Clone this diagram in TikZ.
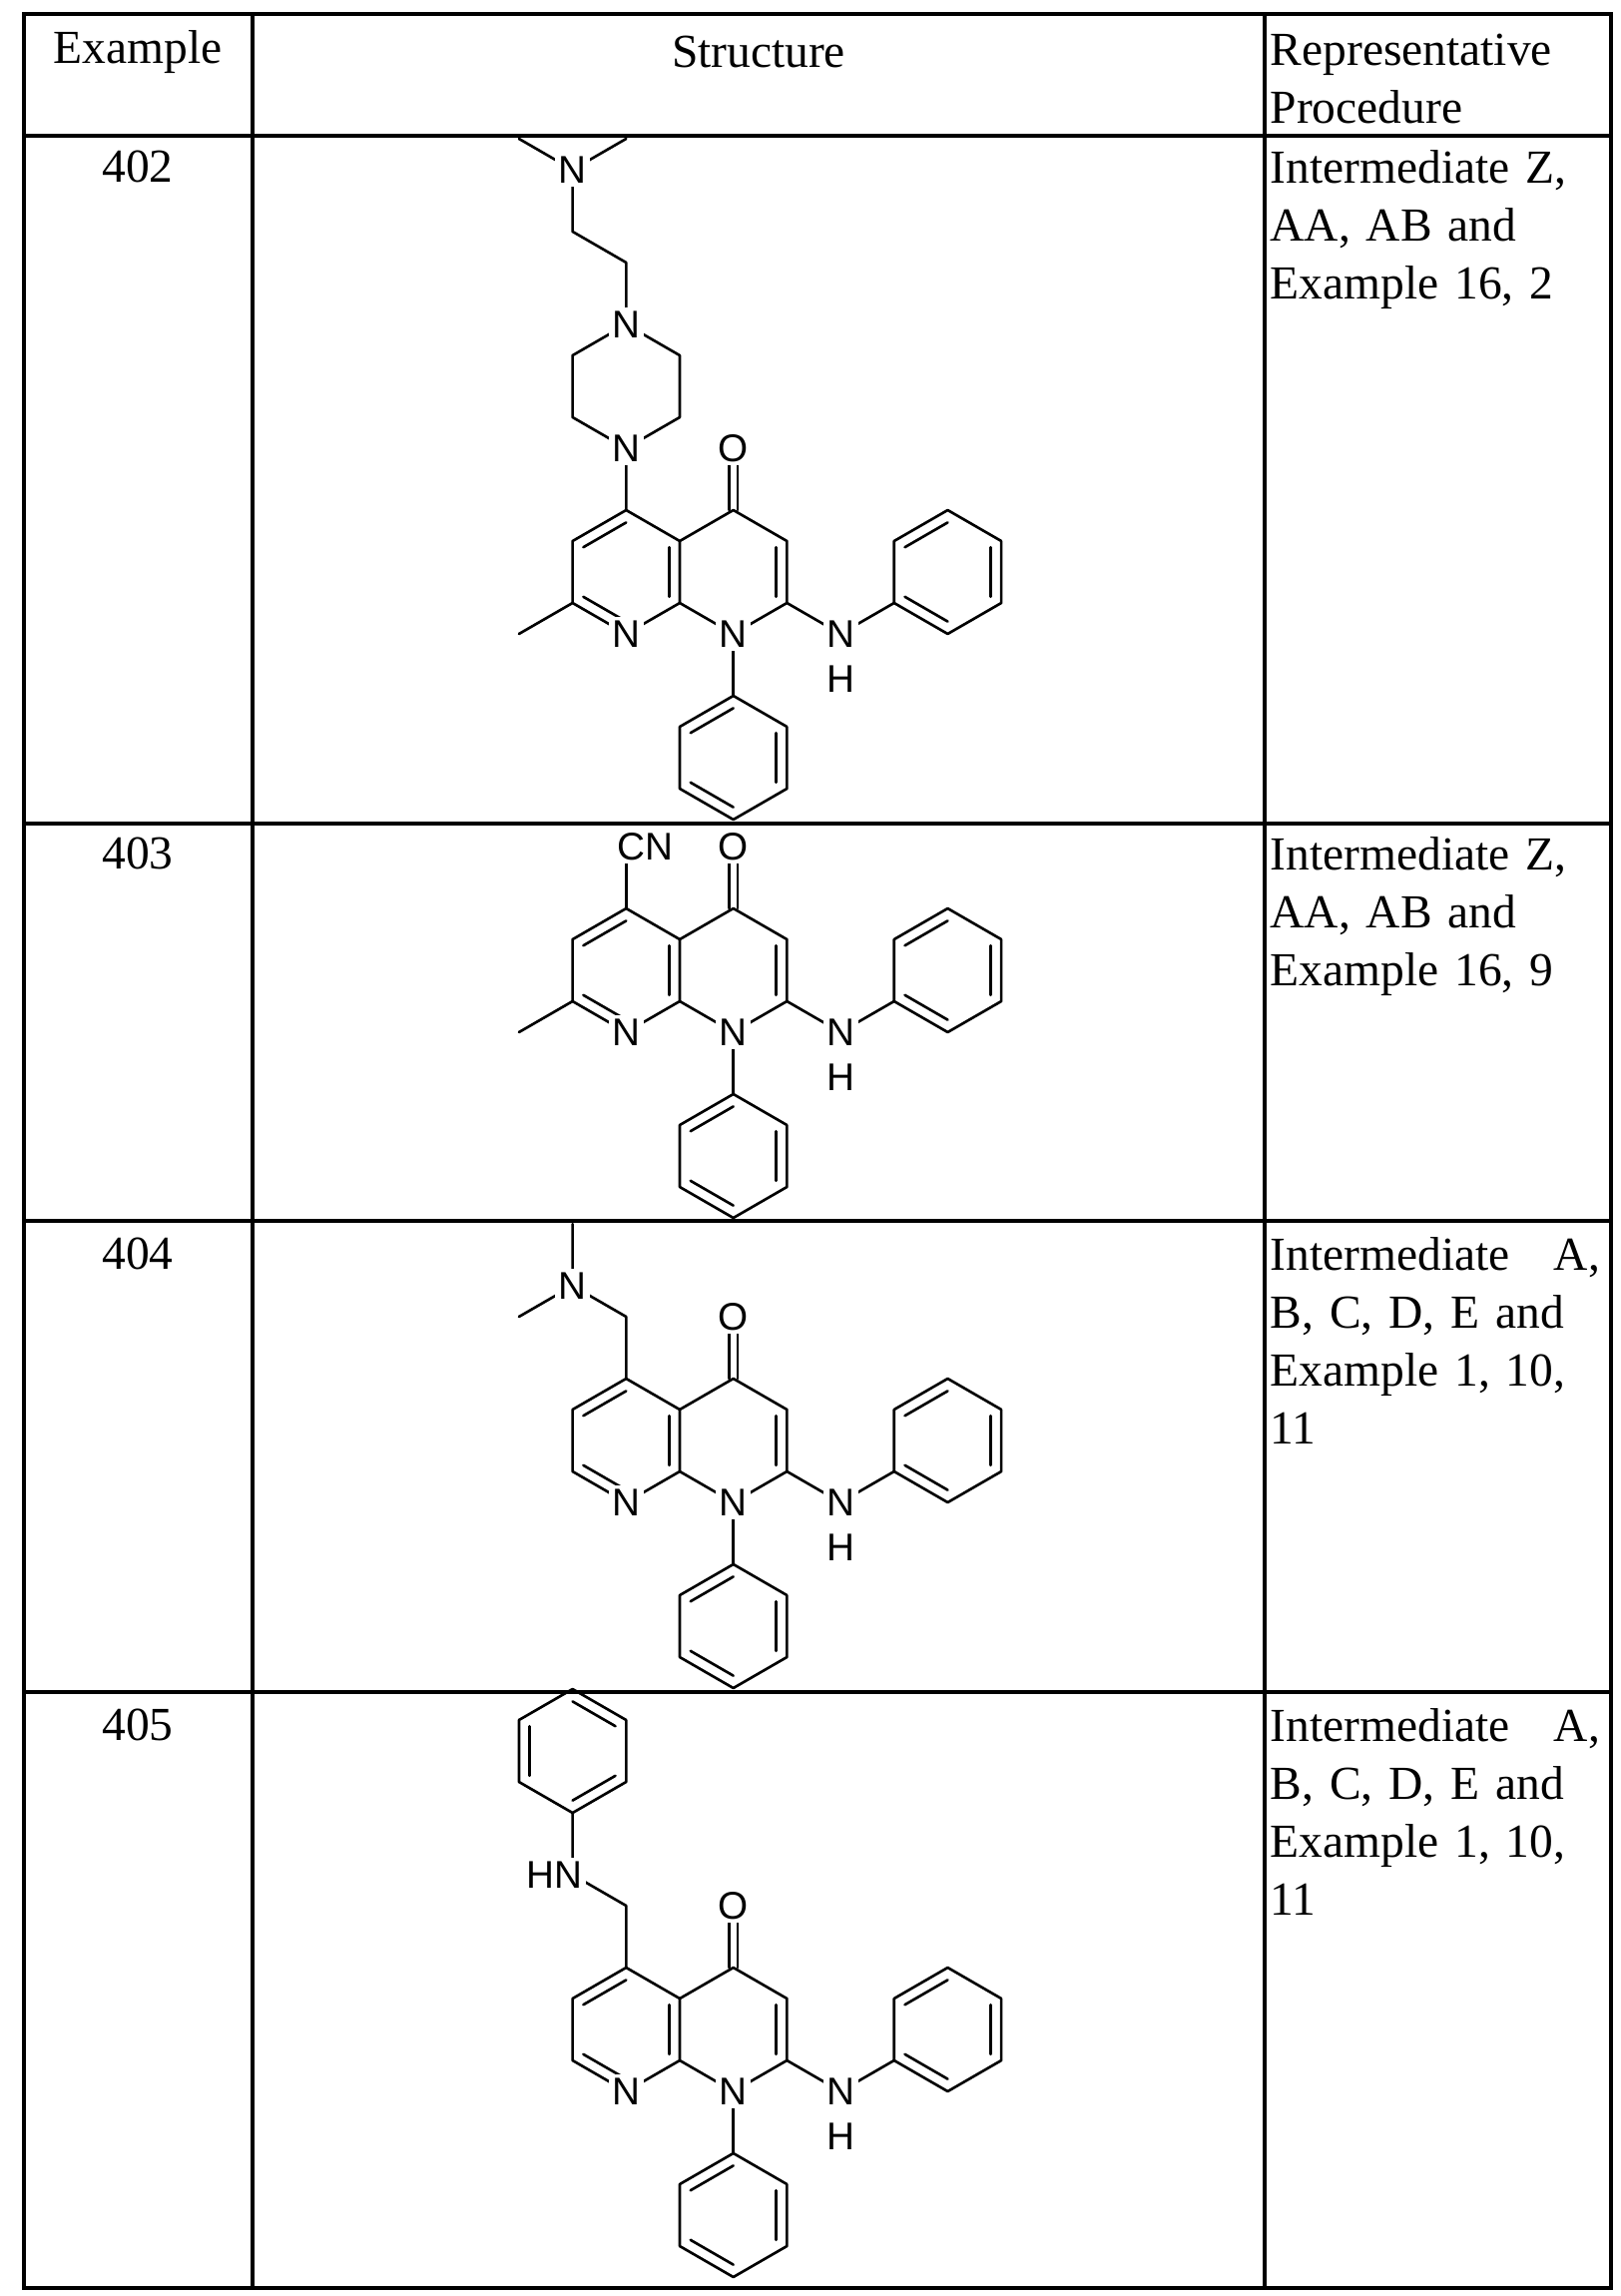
\documentclass[tikz,border=0pt]{standalone}
\usepackage{fontspec}
\setmainfont{Liberation Serif}
\newfontfamily\chemfont{Liberation Sans}
\usetikzlibrary{calc,positioning}
\tikzset{
  rule/.style     = {line width=0.9pt, draw=black},
  bond/.style     = {line width=0.75pt, line join=round, line cap=round},
  atom/.style     = {font=\chemfont\fontsize{11}{12}\selectfont, fill=white, inner sep=1pt},
  celltext/.style = {font=\fontsize{13.5}{16.5}\selectfont, inner sep=0pt},
  proc/.style     = {celltext, anchor=north west, align=left, text width=3.3cm}
}
% inner line of a double bond, pulled toward the ring centre
\newcommand{\inbond}[3]{\draw[bond] ($(#1)!0.2!(#3)$) -- ($(#2)!0.2!(#3)$);}
% benzene ring: centre, start angles of the inner double lines
\newcommand{\phenyl}[2]{
  \draw[bond] ($(#1)+(30:1)$) \foreach \a in {90,150,...,390}{ -- ($(#1)+(\a:1)$)};
  \foreach \a in {#2}{\draw[bond] ($(#1)+(\a:0.8)$) -- ($(#1)+(\a+60:0.8)$);}
}
% 1-phenyl-2-anilino-1,8-naphthyridin-4-one core, C8a at the origin
\newcommand{\naphcore}{
  \coordinate (c8a) at (0,0);      \coordinate (c4a) at (0,1);
  \coordinate (n1)  at (0.866,-0.5); \coordinate (c2) at (1.732,0);
  \coordinate (c3)  at (1.732,1);  \coordinate (c4)  at (0.866,1.5);
  \coordinate (n8)  at (-0.866,-0.5); \coordinate (c7) at (-1.732,0);
  \coordinate (c6)  at (-1.732,1); \coordinate (c5)  at (-0.866,1.5);
  \coordinate (lc)  at (-0.866,0.5); \coordinate (rc) at (0.866,0.5);
  \coordinate (o)   at (0.866,2.5);
  \coordinate (nh)  at (2.598,-0.5); \coordinate (ph1) at (3.464,0);
  \coordinate (ph2) at (0.866,-1.5);
  \draw[bond] (c8a) -- (n1) -- (c2) -- (c3) -- (c4) -- (c4a) -- (c8a)
    -- (n8) -- (c7) -- (c6) -- (c5) -- (c4a);
  \inbond{c5}{c6}{lc} \inbond{c7}{n8}{lc} \inbond{c4a}{c8a}{lc} \inbond{c2}{c3}{rc}
  \draw[bond] (0.794,1.5) -- (0.794,2.4);
  \draw[bond] (0.938,1.5) -- (0.938,2.4);
  \draw[bond] (c2) -- (nh) -- (ph1);
  \draw[bond] (n1) -- (ph2);
  \phenyl{4.33,0.5}{90,210,330}
  \phenyl{0.866,-2.5}{90,210,330}
  \node[atom] (lblO) at (o) {O};
  \node[atom] (lblN1) at (n1) {N};
  \node[atom] (lblN8) at (n8) {N};
  \node[atom] (lblNH) at (nh) {N};
  \node[atom, below=3pt of lblNH] {H};
}

\begin{document}
\begin{tikzpicture}[x={(0.01cm,0cm)}, y={(0cm,-0.01cm)}]
  \useasboundingbox (0,0) rectangle (1623,2300);

  % table rules
  \draw[rule] (24,14) rectangle (1614,2292);
  \draw[rule] (253,14) -- (253,2292);
  \draw[rule] (1267,14) -- (1267,2292);
  \foreach \yy in {136,825,1223,1695}{
    \draw[rule] (24,\yy) -- (1614,\yy);
  }

  % header
  \node[celltext] (hEx) at (138,52) {Example};
  \node[celltext] (hSt) at (760,52) {Structure};
  \node[proc] (hRp) at (1272,33) {Representative\\Procedure};

  % example numbers
  \node[celltext] (ex402) at (138,167) {402};
  \node[celltext] (ex403) at (138,855) {403};
  \node[celltext] (ex404) at (138,1256) {404};
  \node[celltext] (ex405) at (138,1728) {405};

  % procedures
  \node[proc] (pr402) at (1272,150) {Intermediate Z,\\AA, AB and\\Example 16, 2};
  \node[proc] (pr403) at (1272,838) {Intermediate Z,\\AA, AB and\\Example 16, 9};
  \node[proc] (pr404) at (1272,1239) {Intermediate\hfill A,\\B, C, D, E and\\Example 1, 10,\\11};
  \node[proc] (pr405) at (1272,1711) {Intermediate\hfill A,\\B, C, D, E and\\Example 1, 10,\\11};

  % 402
  \begin{scope}[shift={(681,604)}, xscale=62, yscale=-62]
    \naphcore
    \draw[bond] (c7) -- (-2.598,-0.5);
    \coordinate (pa) at (-0.866,2.5); \coordinate (pb) at (-1.732,3);
    \coordinate (pc) at (-1.732,4);   \coordinate (pd) at (-0.866,4.5);
    \coordinate (pe) at (0,4);        \coordinate (pf) at (0,3);
    \coordinate (nme) at (-1.732,7);
    \draw[bond] (c5) -- (pa) -- (pb) -- (pc) -- (pd) -- (pe) -- (pf) -- (pa);
    \draw[bond] (pd) -- (-0.866,5.5) -- (-1.732,6) -- (nme);
    \draw[bond] (-2.598,7.5) -- (nme) -- (-0.866,7.5);
    \node[atom] at (pa) {N};
    \node[atom] at (pd) {N};
    \node[atom] at (nme) {N};
  \end{scope}

  % 403
  \begin{scope}[shift={(681,1003)}, xscale=62, yscale=-62]
    \naphcore
    \draw[bond] (c7) -- (-2.598,-0.5);
    \draw[bond] (c5) -- (-0.866,2.4);
    \node[atom, anchor=west] (lblCN) at (-1.08,2.5) {CN};
  \end{scope}

  % 404
  \begin{scope}[shift={(681,1474)}, xscale=62, yscale=-62]
    \naphcore
    \coordinate (nme) at (-1.732,3);
    \draw[bond] (c5) -- (-0.866,2.5) -- (nme) -- (-1.732,4);
    \draw[bond] (nme) -- (-2.598,2.5);
    \node[atom] at (nme) {N};
  \end{scope}

  % 405
  \begin{scope}[shift={(681,2064)}, xscale=62, yscale=-62]
    \naphcore
    \coordinate (hn) at (-1.732,3);
    \draw[bond] (c5) -- (-0.866,2.5) -- (hn) -- (-1.732,4);
    \phenyl{-1.732,5}{30,150,270}
    \node[atom, anchor=east] (lblHN) at (-1.50,3) {HN};
  \end{scope}
\end{tikzpicture}
\end{document}
